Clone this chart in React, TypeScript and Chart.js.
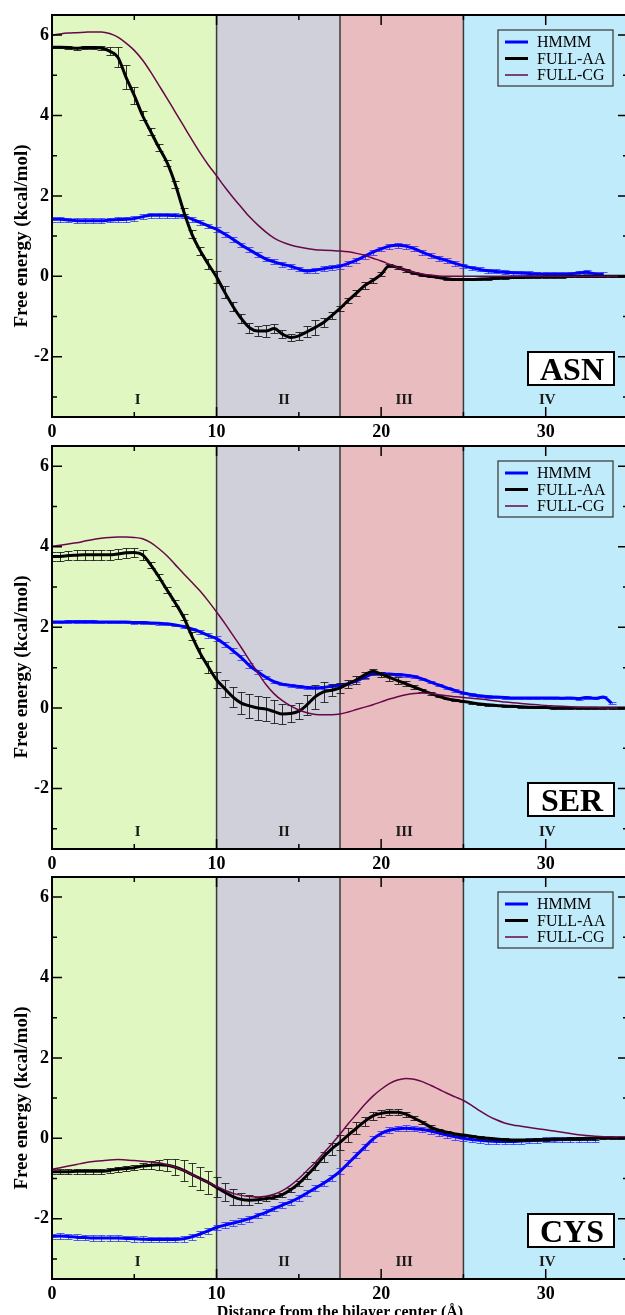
import React, { useEffect, useRef } from "react";
import { Chart, registerables } from "chart.js";

Chart.register(...registerables);

// ---------- data ----------
const DIST = [
  0, 0.5, 1, 1.5, 2, 2.5, 3, 3.5, 4, 4.5,
  5, 5.5, 6, 6.5, 7, 7.5, 8, 8.5, 9, 9.5,
  10, 10.5, 11, 11.5, 12, 12.5, 13, 13.5, 14, 14.5,
  15, 15.5, 16, 16.5, 17, 17.5, 18, 18.5, 19, 19.5,
  20, 20.5, 21, 21.5, 22, 22.5, 23, 23.5, 24, 24.5,
  25, 25.5, 26, 26.5, 27, 27.5, 28, 28.5, 29, 29.5,
  30, 30.5, 31, 31.5, 32, 32.5, 33, 33.5, 34, 34.5,
  35,
];

// ASN
const ASN_HMMM = [
  1.42, 1.42, 1.40, 1.38, 1.38, 1.38, 1.38, 1.40, 1.41, 1.42,
  1.44, 1.48, 1.52, 1.52, 1.52, 1.51, 1.50, 1.42, 1.34, 1.25,
  1.17, 1.05, 0.92, 0.78, 0.66, 0.54, 0.43, 0.36, 0.30, 0.25,
  0.18, 0.13, 0.15, 0.19, 0.22, 0.25, 0.32, 0.40, 0.50, 0.60,
  0.68, 0.75, 0.77, 0.75, 0.69, 0.60, 0.52, 0.45, 0.39, 0.32,
  0.26, 0.21, 0.17, 0.14, 0.12, 0.10, 0.09, 0.08, 0.07, 0.06,
  0.05, 0.05, 0.05, 0.06, 0.08, 0.10, 0.06, 0.05, null, null,
  null,
];
const ASN_HMMM_ERR = [
  0.06, 0.06, 0.06, 0.06, 0.06, 0.06, 0.06, 0.06, 0.06, 0.06,
  0.06, 0.06, 0.06, 0.06, 0.06, 0.06, 0.06, 0.06, 0.06, 0.06,
  0.06, 0.06, 0.06, 0.06, 0.06, 0.06, 0.06, 0.06, 0.06, 0.06,
  0.06, 0.06, 0.06, 0.06, 0.06, 0.06, 0.06, 0.06, 0.06, 0.06,
  0.06, 0.06, 0.06, 0.06, 0.06, 0.06, 0.06, 0.06, 0.06, 0.06,
  0.05, 0.05, 0.05, 0.05, 0.05, 0.05, 0.05, 0.05, 0.05, 0.05,
  0.05, 0.05, 0.05, 0.05, 0.05, 0.05, 0.05, 0.05, null, null,
  null,
];
const ASN_AA = [
  5.70, 5.70, 5.69, 5.67, 5.69, 5.69, 5.68, 5.60, 5.45, 4.95,
  4.50, 4.00, 3.60, 3.20, 2.82, 2.28, 1.62, 1.05, 0.64, 0.30,
  -0.02, -0.40, -0.75, -1.05, -1.28, -1.36, -1.36, -1.30, -1.44, -1.52,
  -1.48, -1.38, -1.27, -1.15, -0.98, -0.80, -0.60, -0.42, -0.23, -0.10,
  0.05, 0.26, 0.22, 0.15, 0.08, 0.03, 0.00, -0.03, -0.06, -0.08,
  -0.08, -0.08, -0.07, -0.06, -0.05, -0.04, -0.03, -0.03, -0.02, -0.02,
  -0.01, -0.01, -0.01, 0.00, 0.00, 0.00, 0.00, 0.00, 0.00, 0.00,
  0.00,
];
const ASN_AA_ERR = [
  0.03, 0.03, 0.03, 0.03, 0.03, 0.03, 0.04, 0.10, 0.25, 0.30,
  0.22, 0.12, 0.08, 0.08, 0.08, 0.08, 0.08, 0.10, 0.10, 0.12,
  0.15, 0.15, 0.12, 0.12, 0.12, 0.12, 0.14, 0.12, 0.10, 0.08,
  0.10, 0.14, 0.18, 0.12, 0.08, 0.06, 0.06, 0.08, 0.08, 0.06,
  0.05, 0.04, 0.04, 0.04, 0.03, 0.02, 0.02, 0.02, 0.02, 0.02,
  0.02, 0.02, 0.02, 0.02, 0.02, 0.02, 0.02, 0.02, 0.02, 0.02,
  0.02, 0.02, 0.02, 0.02, 0.02, 0.02, 0.02, 0.02, 0.02, 0.02,
  0.02,
];
const ASN_CG = [
  6.00, 6.03, 6.05, 6.06, 6.07, 6.08, 6.08, 6.04, 5.95, 5.80,
  5.62, 5.38, 5.08, 4.75, 4.42, 4.08, 3.74, 3.40, 3.07, 2.77,
  2.50, 2.22, 1.96, 1.72, 1.48, 1.28, 1.10, 0.95, 0.85, 0.78,
  0.73, 0.69, 0.66, 0.65, 0.64, 0.63, 0.61, 0.57, 0.52, 0.45,
  0.38, 0.30, 0.22, 0.15, 0.10, 0.06, 0.03, 0.01, 0.00, 0.00,
  0.00, 0.00, 0.00, 0.00, 0.00, 0.00, 0.00, 0.00, 0.00, 0.00,
  0.00, 0.00, 0.00, 0.00, 0.00, 0.00, 0.00, 0.00, 0.00, 0.00,
  0.00,
];

// SER
const SER_HMMM = [
  2.13, 2.13, 2.14, 2.14, 2.14, 2.14, 2.13, 2.13, 2.13, 2.13,
  2.12, 2.12, 2.11, 2.10, 2.09, 2.06, 2.02, 1.96, 1.89, 1.80,
  1.72, 1.58, 1.42, 1.25, 1.05, 0.90, 0.76, 0.65, 0.59, 0.56,
  0.53, 0.51, 0.50, 0.51, 0.54, 0.57, 0.60, 0.67, 0.76, 0.84,
  0.85, 0.84, 0.83, 0.81, 0.78, 0.72, 0.64, 0.57, 0.50, 0.43,
  0.37, 0.33, 0.30, 0.28, 0.27, 0.26, 0.25, 0.25, 0.25, 0.25,
  0.25, 0.25, 0.24, 0.25, 0.23, 0.26, 0.24, 0.27, 0.12, null,
  null,
];
const SER_HMMM_ERR = [
  0.03, 0.03, 0.03, 0.03, 0.03, 0.03, 0.03, 0.03, 0.03, 0.03,
  0.03, 0.03, 0.03, 0.03, 0.03, 0.03, 0.03, 0.03, 0.05, 0.06,
  0.06, 0.06, 0.06, 0.06, 0.06, 0.05, 0.04, 0.03, 0.03, 0.03,
  0.03, 0.03, 0.03, 0.03, 0.03, 0.03, 0.03, 0.03, 0.03, 0.03,
  0.03, 0.03, 0.03, 0.03, 0.03, 0.03, 0.03, 0.03, 0.03, 0.03,
  0.03, 0.03, 0.03, 0.03, 0.03, 0.03, 0.03, 0.03, 0.03, 0.03,
  0.03, 0.03, 0.03, 0.03, 0.03, 0.03, 0.03, 0.03, 0.03, null,
  null,
];
const SER_AA = [
  3.76, 3.76, 3.78, 3.79, 3.80, 3.80, 3.80, 3.80, 3.82, 3.85,
  3.86, 3.80, 3.55, 3.25, 2.92, 2.60, 2.25, 1.78, 1.36, 1.02,
  0.70, 0.48, 0.27, 0.12, 0.05, 0.00, -0.03, -0.09, -0.15, -0.14,
  -0.08, 0.08, 0.28, 0.40, 0.44, 0.50, 0.60, 0.70, 0.82, 0.91,
  0.84, 0.76, 0.68, 0.60, 0.52, 0.44, 0.36, 0.29, 0.23, 0.19,
  0.16, 0.13, 0.10, 0.08, 0.06, 0.05, 0.04, 0.03, 0.02, 0.01,
  0.01, 0.00, 0.00, 0.00, 0.00, 0.00, 0.00, 0.00, 0.00, 0.00,
  0.00,
];
const SER_AA_ERR = [
  0.12, 0.12, 0.12, 0.12, 0.12, 0.12, 0.12, 0.12, 0.12, 0.12,
  0.12, 0.12, 0.08, 0.08, 0.08, 0.08, 0.08, 0.10, 0.12, 0.15,
  0.20, 0.22, 0.25, 0.28, 0.30, 0.30, 0.30, 0.28, 0.25, 0.22,
  0.20, 0.25, 0.30, 0.25, 0.15, 0.12, 0.10, 0.10, 0.08, 0.06,
  0.06, 0.08, 0.08, 0.06, 0.05, 0.04, 0.03, 0.02, 0.02, 0.02,
  0.02, 0.02, 0.02, 0.02, 0.02, 0.02, 0.02, 0.02, 0.02, 0.02,
  0.02, 0.02, 0.02, 0.02, 0.02, 0.02, 0.02, 0.02, 0.02, 0.02,
  0.02,
];
const SER_CG = [
  4.01, 4.04, 4.07, 4.10, 4.14, 4.18, 4.21, 4.23, 4.24, 4.24,
  4.23, 4.20, 4.10, 3.95, 3.77, 3.55, 3.33, 3.12, 2.90, 2.65,
  2.38, 2.10, 1.80, 1.50, 1.18, 0.88, 0.58, 0.35, 0.18, 0.05,
  -0.05, -0.12, -0.16, -0.17, -0.17, -0.15, -0.10, -0.04, 0.02, 0.08,
  0.15, 0.22, 0.28, 0.33, 0.36, 0.37, 0.36, 0.33, 0.30, 0.28,
  0.26, 0.24, 0.22, 0.20, 0.17, 0.15, 0.13, 0.11, 0.09, 0.08,
  0.06, 0.05, 0.04, 0.03, 0.02, 0.01, 0.01, 0.00, 0.00, 0.00,
  0.00,
];

// CYS
const CYS_HMMM = [
  -2.44, -2.43, -2.44, -2.46, -2.47, -2.48, -2.48, -2.48, -2.48, -2.49,
  -2.50, -2.51, -2.52, -2.52, -2.52, -2.52, -2.50, -2.45, -2.38, -2.30,
  -2.22, -2.16, -2.11, -2.06, -2.00, -1.92, -1.84, -1.75, -1.66, -1.58,
  -1.48, -1.36, -1.24, -1.12, -0.98, -0.82, -0.62, -0.42, -0.22, -0.02,
  0.12, 0.20, 0.24, 0.25, 0.24, 0.22, 0.18, 0.13, 0.08, 0.04,
  0.00, -0.03, -0.05, -0.07, -0.08, -0.08, -0.08, -0.07, -0.06, -0.05,
  -0.04, -0.04, -0.03, -0.03, -0.03, -0.02, -0.02, null, null, null,
  null,
];
const CYS_HMMM_ERR = [
  0.07, 0.07, 0.07, 0.07, 0.07, 0.07, 0.07, 0.07, 0.07, 0.07,
  0.07, 0.07, 0.07, 0.07, 0.07, 0.07, 0.07, 0.07, 0.07, 0.07,
  0.07, 0.07, 0.07, 0.07, 0.07, 0.07, 0.07, 0.07, 0.07, 0.07,
  0.07, 0.07, 0.07, 0.07, 0.07, 0.07, 0.07, 0.07, 0.07, 0.07,
  0.07, 0.07, 0.07, 0.07, 0.07, 0.07, 0.07, 0.07, 0.07, 0.07,
  0.06, 0.06, 0.06, 0.06, 0.06, 0.06, 0.06, 0.06, 0.06, 0.06,
  0.06, 0.06, 0.06, 0.06, 0.06, 0.06, 0.06, null, null, null,
  null,
];
const CYS_AA = [
  -0.83, -0.83, -0.83, -0.82, -0.82, -0.82, -0.82, -0.80, -0.77, -0.75,
  -0.73, -0.69, -0.67, -0.66, -0.67, -0.72, -0.80, -0.90, -1.00, -1.10,
  -1.22, -1.34, -1.45, -1.52, -1.54, -1.53, -1.50, -1.47, -1.40, -1.28,
  -1.12, -0.92, -0.70, -0.46, -0.26, -0.10, 0.08, 0.25, 0.42, 0.56,
  0.62, 0.65, 0.65, 0.60, 0.50, 0.40, 0.28, 0.20, 0.15, 0.11,
  0.08, 0.05, 0.02, 0.00, -0.02, -0.03, -0.04, -0.04, -0.04, -0.03,
  -0.03, -0.02, -0.02, -0.01, -0.01, 0.00, 0.00, 0.01, 0.01, 0.01,
  0.01,
];
const CYS_AA_ERR = [
  0.06, 0.06, 0.06, 0.06, 0.06, 0.06, 0.06, 0.06, 0.06, 0.06,
  0.06, 0.08, 0.10, 0.12, 0.15, 0.20, 0.25, 0.28, 0.28, 0.28,
  0.25, 0.22, 0.20, 0.15, 0.12, 0.08, 0.06, 0.05, 0.05, 0.05,
  0.06, 0.08, 0.10, 0.12, 0.15, 0.18, 0.18, 0.15, 0.12, 0.10,
  0.08, 0.08, 0.08, 0.06, 0.05, 0.04, 0.04, 0.03, 0.03, 0.03,
  0.03, 0.03, 0.03, 0.03, 0.03, 0.03, 0.03, 0.03, 0.03, 0.03,
  0.03, 0.03, 0.03, 0.03, 0.03, 0.03, 0.03, 0.03, 0.03, 0.03,
  0.03,
];
const CYS_CG = [
  -0.77, -0.73, -0.69, -0.65, -0.61, -0.58, -0.56, -0.54, -0.53, -0.54,
  -0.55, -0.57, -0.59, -0.61, -0.66, -0.72, -0.80, -0.90, -1.01, -1.10,
  -1.20, -1.29, -1.37, -1.42, -1.45, -1.46, -1.44, -1.39, -1.30, -1.17,
  -1.00, -0.80, -0.60, -0.37, -0.14, 0.10, 0.36, 0.60, 0.84, 1.05,
  1.22, 1.36, 1.45, 1.49, 1.47, 1.41, 1.32, 1.22, 1.12, 1.03,
  0.94, 0.82, 0.68, 0.56, 0.46, 0.38, 0.33, 0.30, 0.27, 0.24,
  0.21, 0.18, 0.15, 0.12, 0.09, 0.07, 0.05, 0.04, 0.04, 0.03,
  0.03,
];

const X_TICKS = [0, 10, 20, 30];
const X_MINOR = [5, 15, 25];
const Y_TICKS = [-2, 0, 2, 4, 6];
const Y_MINOR = [-3, -1, 1, 3, 5];
const REGION_EDGES = [0, 10, 17.5, 25, 35];
const REGION_COLORS = ["#e0f7c1", "#d0d0db", "#e9bcc0", "#c0ebfa"];
const REGION_NAMES = ["I", "II", "III", "IV"];
const REGION_LABEL_AT = [5.2, 14.1, 21.4, 30.1];
const SERIES_NAMES = ["HMMM", "FULL-AA", "FULL-CG"];
const SERIES_COLORS = ["#0000ff", "#000000", "#670748"];
const SERIES_WIDTHS = [3, 3, 1.5];
const ERROR_COLORS = ["rgba(40,40,255,0.75)", "rgba(20,20,20,0.85)"];

const Y_TITLE = "Free energy (kcal/mol)";
const X_TITLE = "Distance from the bilayer center (Å)";

const SERIF = '"Liberation Serif", "Times New Roman", serif';

type PanelDef = {
  name: string;
  hmmm: (number | null)[];
  hmmmErr: (number | null)[];
  aa: number[];
  aaErr: number[];
  cg: number[];
  top: number;
  height: number;
  padTop: number;
  xAxisH: number;
  xTitle: boolean;
};

const PANELS: PanelDef[] = [
  { name: "ASN", hmmm: ASN_HMMM, hmmmErr: ASN_HMMM_ERR, aa: ASN_AA, aaErr: ASN_AA_ERR, cg: ASN_CG, top: 0, height: 442, padTop: 15, xAxisH: 25, xTitle: false },
  { name: "SER", hmmm: SER_HMMM, hmmmErr: SER_HMMM_ERR, aa: SER_AA, aaErr: SER_AA_ERR, cg: SER_CG, top: 428, height: 444, padTop: 18, xAxisH: 23, xTitle: false },
  { name: "CYS", hmmm: CYS_HMMM, hmmmErr: CYS_HMMM_ERR, aa: CYS_AA, aaErr: CYS_AA_ERR, cg: CYS_CG, top: 858, height: 472, padTop: 19, xAxisH: 51, xTitle: true },
];

const CANVAS_W = 640;

function toPoints(vals: (number | null)[]) {
  return DIST.map((x, i) => ({ x, y: vals[i] }));
}

function makePlugins(p: PanelDef) {
  const errorBars = {
    id: "errorBars",
    beforeDatasetDraw(chart: any, args: any) {
      const ds = chart.data.datasets[args.index];
      const errs = ds.errors;
      if (!errs) return;
      const xs = chart.scales.x;
      const ys = chart.scales.y;
      const ca = chart.chartArea;
      const ctx = chart.ctx;
      ctx.save();
      ctx.beginPath();
      ctx.rect(ca.left, ca.top, ca.right - ca.left, ca.bottom - ca.top);
      ctx.clip();
      ctx.strokeStyle = ds.errorColor;
      ctx.lineWidth = 1;
      ctx.beginPath();
      ds.data.forEach((pt: any, i: number) => {
        const e = errs[i];
        if (pt.y == null || e == null) return;
        const px = Math.round(xs.getPixelForValue(pt.x)) + 0.5;
        const y1 = Math.round(ys.getPixelForValue(pt.y + e)) + 0.5;
        const y2 = Math.round(ys.getPixelForValue(pt.y - e)) + 0.5;
        ctx.moveTo(px, y1);
        ctx.lineTo(px, y2);
        ctx.moveTo(px - 4, y1);
        ctx.lineTo(px + 4, y1);
        ctx.moveTo(px - 4, y2);
        ctx.lineTo(px + 4, y2);
      });
      ctx.stroke();
      ctx.restore();
    },
  };

  const background = {
    id: "regions",
    beforeDatasetsDraw(chart: any) {
      const xs = chart.scales.x;
      const ca = chart.chartArea;
      const ctx = chart.ctx;
      ctx.save();
      ctx.beginPath();
      ctx.rect(ca.left, ca.top, ca.right - ca.left, ca.bottom - ca.top);
      ctx.clip();
      for (let i = 0; i < REGION_COLORS.length; i++) {
        const a = xs.getPixelForValue(REGION_EDGES[i]);
        const b = xs.getPixelForValue(REGION_EDGES[i + 1]);
        ctx.fillStyle = REGION_COLORS[i];
        ctx.fillRect(a, ca.top, b - a, ca.bottom - ca.top);
      }
      ctx.strokeStyle = "#3a3a3a";
      ctx.lineWidth = 1.5;
      for (let i = 1; i < REGION_EDGES.length - 1; i++) {
        const x = xs.getPixelForValue(REGION_EDGES[i]);
        ctx.beginPath();
        ctx.moveTo(x, ca.top);
        ctx.lineTo(x, ca.bottom);
        ctx.stroke();
      }
      ctx.fillStyle = "#1a1a1a";
      ctx.font = `bold 15px ${SERIF}`;
      ctx.textAlign = "center";
      ctx.textBaseline = "alphabetic";
      REGION_NAMES.forEach((n, i) => {
        ctx.fillText(n, xs.getPixelForValue(REGION_LABEL_AT[i]), ca.bottom - 13);
      });
      ctx.restore();
    },
  };

  const decor = {
    id: "decor",
    afterDraw(chart: any) {
      const xs = chart.scales.x;
      const ys = chart.scales.y;
      const ca = chart.chartArea;
      const ctx = chart.ctx;
      ctx.save();
      // ticks (inward, all four sides)
      ctx.strokeStyle = "#000";
      ctx.lineWidth = 1.5;
      ctx.beginPath();
      const xt = (v: number, len: number) => {
        const x = xs.getPixelForValue(v);
        ctx.moveTo(x, ca.bottom);
        ctx.lineTo(x, ca.bottom - len);
        ctx.moveTo(x, ca.top);
        ctx.lineTo(x, ca.top + len);
      };
      const yt = (v: number, len: number) => {
        const y = ys.getPixelForValue(v);
        ctx.moveTo(ca.left, y);
        ctx.lineTo(ca.left + len, y);
        ctx.moveTo(ca.right, y);
        ctx.lineTo(ca.right - len, y);
      };
      X_TICKS.forEach((v) => xt(v, 10));
      X_MINOR.forEach((v) => xt(v, 5));
      Y_TICKS.forEach((v) => yt(v, 10));
      Y_MINOR.forEach((v) => yt(v, 5));
      ctx.stroke();
      // frame
      ctx.lineWidth = 2;
      ctx.strokeRect(ca.left, ca.top, ca.right - ca.left, ca.bottom - ca.top);

      // legend
      const lx = ca.right - 130;
      const ly = ca.top + 15;
      ctx.lineWidth = 1.2;
      ctx.strokeStyle = "#333";
      ctx.strokeRect(lx, ly, 115, 56);
      const rows = [12, 28.5, 45];
      ctx.font = `16px ${SERIF}`;
      ctx.textAlign = "left";
      ctx.textBaseline = "middle";
      SERIES_NAMES.forEach((n, i) => {
        ctx.strokeStyle = SERIES_COLORS[i];
        ctx.lineWidth = SERIES_WIDTHS[i];
        ctx.beginPath();
        ctx.moveTo(lx + 7, ly + rows[i]);
        ctx.lineTo(lx + 30, ly + rows[i]);
        ctx.stroke();
        ctx.fillStyle = "#000";
        ctx.fillText(n, lx + 39, ly + rows[i] + 1);
      });

      // residue label box
      const bx = ca.right - 100;
      const by = ca.top + 337;
      ctx.fillStyle = "#fff";
      ctx.fillRect(bx, by, 86, 33);
      ctx.strokeStyle = "#000";
      ctx.lineWidth = 2;
      ctx.strokeRect(bx, by, 86, 33);
      ctx.fillStyle = "#000";
      ctx.font = `bold 32px ${SERIF}`;
      ctx.textAlign = "center";
      ctx.textBaseline = "alphabetic";
      ctx.fillText(p.name, bx + 44, ca.top + 365);

      // y title
      ctx.save();
      ctx.translate(22, ca.top + 221);
      ctx.rotate(-Math.PI / 2);
      ctx.font = `bold 19px ${SERIF}`;
      ctx.textAlign = "center";
      ctx.textBaseline = "middle";
      ctx.fillText(Y_TITLE, 0, 0);
      ctx.restore();

      if (p.xTitle) {
        ctx.font = `bold 16px ${SERIF}`;
        ctx.textAlign = "center";
        ctx.textBaseline = "alphabetic";
        ctx.fillText(X_TITLE, (ca.left + ca.right) / 2, ca.bottom + 38);
      }
      ctx.restore();
    },
  };
  return [background, errorBars, decor];
}

function Panel({ p }: { p: PanelDef }) {
  const ref = useRef<HTMLCanvasElement>(null);
  useEffect(() => {
    const tickFont = { family: SERIF, size: 18, weight: "bold" as const };
    const chart = new Chart(ref.current as HTMLCanvasElement, {
      type: "line",
      data: {
        datasets: [
          {
            label: SERIES_NAMES[0],
            data: toPoints(p.hmmm),
            borderColor: SERIES_COLORS[0],
            borderWidth: SERIES_WIDTHS[0],
            order: 3,
            errors: p.hmmmErr,
            errorColor: ERROR_COLORS[0],
          } as any,
          {
            label: SERIES_NAMES[1],
            data: toPoints(p.aa),
            borderColor: SERIES_COLORS[1],
            borderWidth: SERIES_WIDTHS[1],
            order: 2,
            errors: p.aaErr,
            errorColor: ERROR_COLORS[1],
          } as any,
          {
            label: SERIES_NAMES[2],
            data: toPoints(p.cg),
            borderColor: SERIES_COLORS[2],
            borderWidth: SERIES_WIDTHS[2],
            order: 1,
          } as any,
        ],
      },
      options: {
        responsive: false,
        animation: false,
        devicePixelRatio: 1,
        layout: { padding: { top: p.padTop, right: 12, left: 0, bottom: 0 } },
        elements: {
          point: { radius: 0, hoverRadius: 0 },
          line: { cubicInterpolationMode: "monotone", fill: false },
        },
        plugins: {
          legend: { display: false },
          tooltip: { enabled: false },
          title: { display: false },
        },
        events: [],
        scales: {
          x: {
            type: "linear",
            min: 0,
            max: 35,
            afterBuildTicks: (s: any) => {
              s.ticks = X_TICKS.map((v) => ({ value: v }));
            },
            afterFit: (s: any) => {
              s.height = p.xAxisH;
            },
            grid: { display: false, drawTicks: false },
            border: { display: false },
            ticks: { font: tickFont, color: "#000", padding: 5, maxRotation: 0, autoSkip: false },
          },
          y: {
            type: "linear",
            min: -3.5,
            max: 6.5,
            afterBuildTicks: (s: any) => {
              s.ticks = Y_TICKS.map((v) => ({ value: v }));
            },
            afterFit: (s: any) => {
              s.width = 52;
            },
            grid: { display: false, drawTicks: false },
            border: { display: false },
            ticks: { font: tickFont, color: "#000", padding: 3, autoSkip: false },
          },
        },
      } as any,
      plugins: makePlugins(p) as any,
    });
    return () => chart.destroy();
  }, [p]);
  return (
    <canvas
      ref={ref}
      width={CANVAS_W}
      height={p.height}
      style={{ position: "absolute", left: 0, top: p.top, width: CANVAS_W, height: p.height, display: "block" }}
    />
  );
}

export default function App() {
  return (
    <div
      style={{
        position: "fixed",
        left: 0,
        top: 0,
        width: 625,
        height: 1315,
        overflow: "hidden",
        background: "#fff",
      }}
    >
      {PANELS.map((p) => (
        <Panel key={p.name} p={p} />
      ))}
    </div>
  );
}
